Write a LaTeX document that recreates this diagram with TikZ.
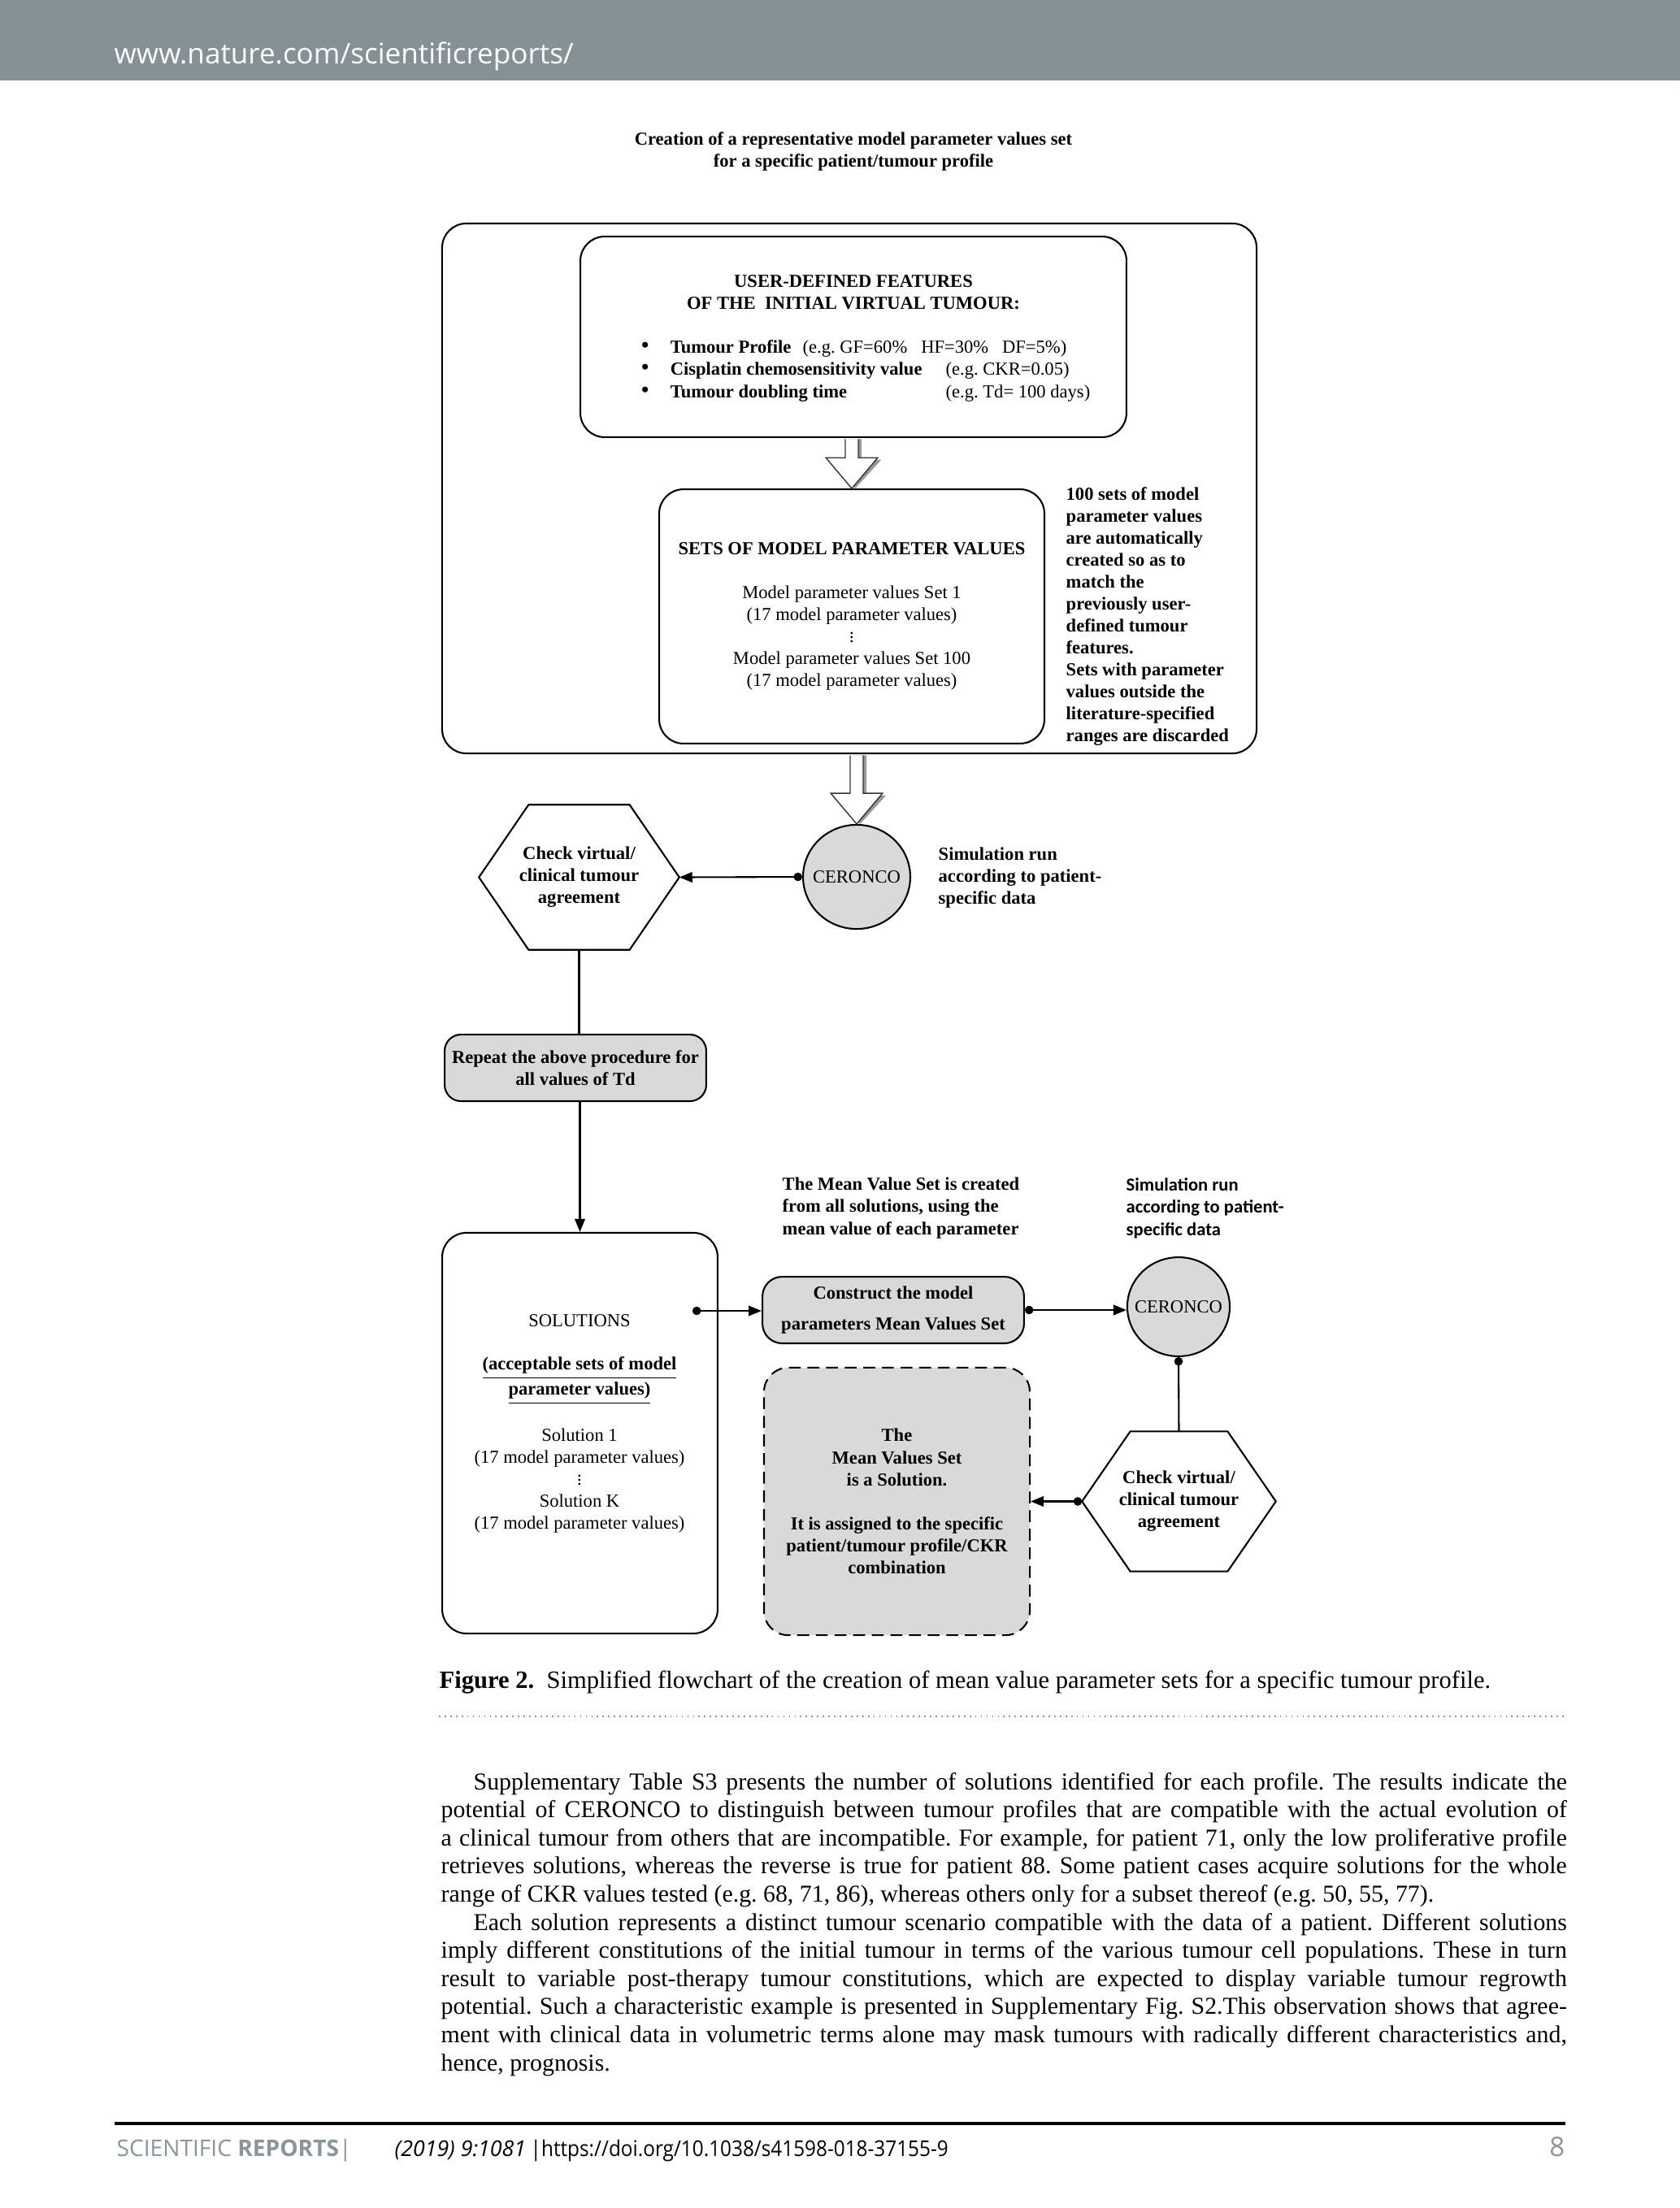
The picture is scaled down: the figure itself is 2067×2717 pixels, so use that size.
\documentclass[tikz,border=0pt]{standalone}
\usepackage{fontspec}
\setmainfont{Liberation Serif}
\newfontfamily\osans{Open Sans}
\newfontfamily\carl{Carlito}
\usetikzlibrary{arrows.meta,calc,shapes.geometric}
\definecolor{hdrgray}{RGB}{132,145,151}
\definecolor{boxgray}{RGB}{217,217,217}
\definecolor{ftgray}{RGB}{138,149,155}
\newcommand{\vdts}{\vbox{\baselineskip=1.4pt\lineskiplimit=-5pt\lineskip=0pt\hbox{.}\hbox{.}\hbox{.}}}
\newcommand{\bigbul}{{\fontsize{8.5}{8.5}\selectfont\textbullet}}
\newcommand{\hexdraw}[2]{\draw[line width=0.6pt] ([xshift=#2]#1.north west) -- ([xshift=-#2]#1.north east) -- (#1.east) -- ([xshift=-#2]#1.south east) -- ([xshift=#2]#1.south west) -- (#1.west) -- cycle;}
\frenchspacing
\begin{document}
\begin{tikzpicture}[x=0.288pt,y=-0.288pt,
  dg/.style={font=\fontsize{6.5}{7.8}\selectfont, inner sep=0pt},
  dgb/.style={font=\fontsize{6.5}{7.8}\selectfont\bfseries, inner sep=0pt},
  bx/.style={draw, line width=0.6pt, rounded corners=8.6pt, inner sep=0pt},
  gbx/.style={bx, fill=boxgray},
  ell/.style={ellipse, draw, line width=0.6pt, fill=boxgray, inner sep=0pt, font=\fontsize{6.5}{7.8}\selectfont},
  hexbox/.style={dgb, align=center},
  arr/.style={line width=0.6pt, -{Triangle[length=4.6pt,width=3.6pt]}},
  dotarr/.style={line width=0.6pt, {Circle[length=3pt]}-{Triangle[length=4.6pt,width=3.6pt]}},
  dotline/.style={line width=0.6pt, {Circle[length=3pt]}-},
  hollow/.style={draw=black!80, line width=0.4pt, fill=white},
  shade/.style={fill=black!40},
  body/.style={font=\fontsize{8.6}{10}\selectfont, inner sep=0pt, anchor=base west},
  foot/.style={anchor=base west, inner sep=0pt, font=\osans\fontsize{7.7}{9}\selectfont},
]
\useasboundingbox (0,0) rectangle (2067,2717);
\fill[white] (0,0) rectangle (2067,2717);

% header
\fill[hdrgray] (0,0) rectangle (2067,99);
\node[anchor=base west, inner sep=0pt, text=white, font=\osans\fontsize{10.1}{11}\selectfont] (hdr) at (140,78) {www.nature.com/scientificreports/};

% title
\node[dgb, align=center] (title) at (1050,186.5) {Creation of a representative model parameter values set\\for a specific patient/tumour profile};

% outer box and top box
\node[bx, minimum width=288.6pt, minimum height=187.8pt] (obox) at (1045,601) {};
\node[bx, minimum width=193.5pt, minimum height=71.1pt] (ubox) at (1050,414.5) {};
\node[dgb, align=center] (uhead) at (1050,360) {USER-DEFINED FEATURES\\OF THE\ \ INITIAL VIRTUAL TUMOUR:};
\node[dg, anchor=base west] (row1) at (788,434) {\makebox[10.4pt][l]{\bigbul}\makebox[46.9pt][l]{\textbf{Tumour Profile}}(e.g. GF=60\%\ \ \ HF=30\%\ \ \ DF=5\%)};
\node[dg, anchor=base west] (row2) at (788,461) {\makebox[10.4pt][l]{\bigbul}\makebox[97.6pt][l]{\textbf{Cisplatin chemosensitivity value}}(e.g. CKR=0.05)};
\node[dg, anchor=base west] (row3) at (788,489) {\makebox[10.4pt][l]{\bigbul}\makebox[97.6pt][l]{\textbf{Tumour doubling time}}(e.g. Td= 100 days)};

% sets box
\node[bx, dg, align=center, minimum width=136.5pt, minimum height=90.1pt] (sbox) at (1048,758.5) {\textbf{SETS OF MODEL PARAMETER VALUES}\\[7.8pt]Model parameter values Set 1\\(17 model parameter values)\\\vdts\\Model parameter values Set 100\\(17 model parameter values)};
\node[dgb, align=left, anchor=west] (side1) at (1311,758.5) {100 sets of model\\parameter values\\are automatically\\created so as to\\match the\\previously user-\\defined tumour\\features.\\Sets with parameter\\values outside the\\literature-specified\\ranges are discarded};

% CERONCO 1 and hexagon 1
\node[ell, minimum width=38pt, minimum height=36.9pt] (cer1) at (1054,1079) {\makebox[0pt]{CERONCO}};
\node[hexbox, minimum width=70.6pt, minimum height=51pt] (hex1) at (712.5,1079.5) {Check virtual/\\clinical tumour\\agreement};
\hexdraw{hex1}{17.6pt}
\node[dgb, align=left, anchor=west] (sim1) at (1154,1080) {Simulation run\\according to patient-\\specific data};

% repeat box
\node[gbx, dgb, align=center, rounded corners=5.8pt, minimum width=92.7pt, minimum height=23.6pt] (rep) at (708,1314) {Repeat the above procedure for\\all values of Td};

% solutions box
\node[bx, minimum width=97.6pt, minimum height=142pt] (sol) at (713.5,1763.5) {};
\node[dg, align=center] (soltext) at (713,1752) {SOLUTIONS\\[7.6pt]\underline{\textbf{(acceptable sets of model}}\\\underline{\textbf{parameter values)}}\\[7.4pt]Solution 1\\(17 model parameter values)\\\vdts\\Solution K\\(17 model parameter values)};
\coordinate (solout) at (852,1613);

% construct box
\node[gbx, align=center, rounded corners=7pt, minimum width=92.7pt, minimum height=23.6pt, font=\fontsize{6.5}{10.7}\selectfont\bfseries] (cons) at (1099,1612) {Construct the model\\parameters Mean Values Set};
\node[dgb, align=left, anchor=west] (meantxt) at (962,1486.5) {The Mean Value Set is created\\from all solutions, using the\\mean value of each parameter};
\node[inner sep=0pt, align=left, anchor=west, font=\carl\fontsize{6.5}{7.9}\selectfont\bfseries] (sim2) at (1385,1486.5) {Simulation run\\according to patient-\\specific data};

% CERONCO 2, hexagon 2, dashed box
\node[ell, minimum width=36.3pt, minimum height=35.1pt] (cer2) at (1450,1608) {\makebox[0pt]{CERONCO}};
\node[hexbox, minimum width=68.3pt, minimum height=49.2pt] (hex2) at (1450.5,1847.5) {Check virtual/\\clinical tumour\\agreement};
\hexdraw{hex2}{17.1pt}
\node[gbx, dgb, align=center, dash pattern=on 4.2pt off 2.4pt, minimum width=94.2pt, minimum height=94.8pt] (dash) at (1103.5,1847.5) {The\\Mean Values Set\\is a Solution.\\[7.8pt]It is assigned to the specific\\patient/tumour profile/CKR\\combination};

% hollow arrows
\fill[shade] let \p1=(ubox.south), \p2=(sbox.north) in
  (\x2-1.1pt,\y1-0.4pt) -- (\x2-1.1pt,\y2+10.1pt) -- (\x2-8pt,\y2+10.1pt) -- (\x2+1.2pt,\y2) -- (\x2+10.4pt,\y2+10.1pt) -- (\x2+3.5pt,\y2+10.1pt) -- (\x2+3.5pt,\y1-0.4pt) -- cycle;
\draw[hollow] let \p1=(ubox.south), \p2=(sbox.north) in
  (\x2-2.3pt,\y1-0.4pt) -- (\x2-2.3pt,\y2+10.9pt) -- (\x2-9.2pt,\y2+10.9pt) -- (\x2,\y2) -- (\x2+9.2pt,\y2+10.9pt) -- (\x2+2.3pt,\y2+10.9pt) -- (\x2+2.3pt,\y1-0.4pt);
\fill[shade] let \p1=(obox.south), \p2=(cer1.north) in
  (\x2-1.1pt,\y1-0.4pt) -- (\x2-1.1pt,\y2+10.1pt) -- (\x2-8pt,\y2+10.1pt) -- (\x2+1.2pt,\y2) -- (\x2+10.4pt,\y2+10.1pt) -- (\x2+3.5pt,\y2+10.1pt) -- (\x2+3.5pt,\y1-0.4pt) -- cycle;
\draw[hollow] let \p1=(obox.south), \p2=(cer1.north) in
  (\x2-2.3pt,\y1-0.4pt) -- (\x2-2.3pt,\y2+10.9pt) -- (\x2-9.2pt,\y2+10.9pt) -- (\x2,\y2) -- (\x2+9.2pt,\y2+10.9pt) -- (\x2+2.3pt,\y2+10.9pt) -- (\x2+2.3pt,\y1-0.4pt);

% connectors
\draw[dotarr] (cer1.west) -- (hex1.east);
\draw[line width=0.6pt] (hex1.south) -- (hex1.south |- rep.north);
\draw[arr] (sol.north |- rep.south) -- (sol.north);
\draw[dotarr] (solout) -- (solout -| cons.west);
\draw[dotarr] (cons.east) -- (cons.east -| cer2.west);
\draw[dotline] (cer2.south) -- (hex2.north);
\draw[dotarr] (hex2.west) -- (dash.east);

% caption
\node[anchor=base west, inner sep=0pt, font=\fontsize{8.8}{10}\selectfont] (cap) at (540,2077) {\textbf{Figure 2.}\enspace Simplified flowchart of the creation of mean value parameter sets for a specific tumour profile.};
\draw[ftgray, line width=0.5pt, dash pattern=on 0.5pt off 1.5pt] (540,2112) -- (1927,2112);

% body text
\node[body] (b1) at (582,2202) {\makebox[387.4pt][s]{Supplementary Table S3 presents the number of solutions identified for each profile. The results indicate the}};
\node[body] (b2) at (542,2236.6) {\makebox[398.9pt][s]{potential of CERONCO to distinguish between tumour profiles that are compatible with the actual evolution of}};
\node[body] (b3) at (542,2271.2) {\makebox[398.9pt][s]{a clinical tumour from others that are incompatible. For example, for patient 71, only the low proliferative profile}};
\node[body] (b4) at (542,2305.8) {\makebox[398.9pt][s]{retrieves solutions, whereas the reverse is true for patient 88. Some patient cases acquire solutions for the whole}};
\node[body] (b5) at (542,2340.4) {range of CKR values tested (e.g. 68, 71, 86), whereas others only for a subset thereof (e.g. 50, 55, 77).};
\node[body] (b6) at (582,2375) {\makebox[387.4pt][s]{Each solution represents a distinct tumour scenario compatible with the data of a patient. Different solutions}};
\node[body] (b7) at (542,2409.6) {\makebox[398.9pt][s]{imply different constitutions of the initial tumour in terms of the various tumour cell populations. These in turn}};
\node[body] (b8) at (542,2444.2) {\makebox[398.9pt][s]{result to variable post-therapy tumour constitutions, which are expected to display variable tumour regrowth}};
\node[body] (b9) at (542,2478.8) {\makebox[398.9pt][s]{potential. Such a characteristic example is presented in Supplementary Fig. S2.This observation shows that agree-}};
\node[body] (b10) at (542,2513.4) {\makebox[398.9pt][s]{ment with clinical data in volumetric terms alone may mask tumours with radically different characteristics and,}};
\node[body] (b11) at (542,2548) {hence, prognosis.};

% footer
\draw[line width=0.9pt] (141,2613) -- (1926,2613);
\node[foot, text=ftgray, font=\osans\fontsize{8.1}{9}\selectfont] (ft1) at (143,2653) {SCIENTIFIC \textbf{REPORTS}|};
\node[foot] (ft2) at (485,2653) {\textit{(2019) 9:1081}};
\node[foot] (ft3) at (652,2653) {\scalebox{0.91}[1]{|https://doi.org/10.1038/s41598-018-37155-9}};
\node[anchor=base east, inner sep=0pt, text=ftgray, font=\osans\fontsize{9.5}{11}\selectfont] (ft4) at (1926,2653) {8};
\end{tikzpicture}
\end{document}
